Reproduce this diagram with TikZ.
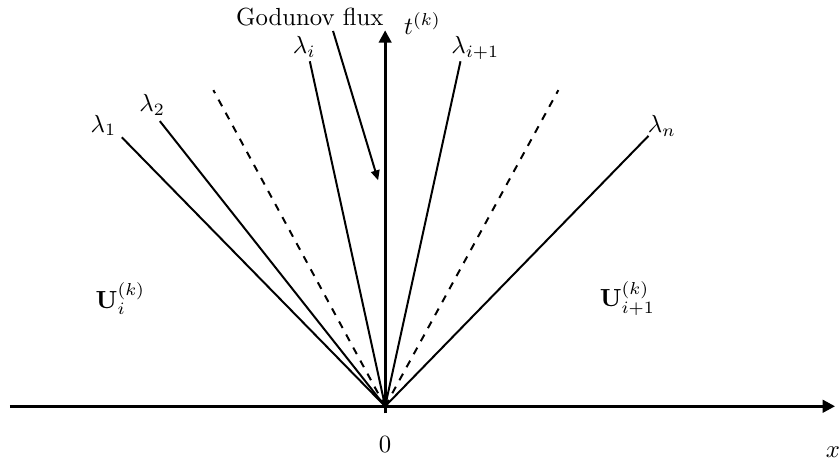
\documentclass[tikz,border=0pt]{standalone}
\usepackage{amsmath,amssymb}
\usepackage{tikz}
\usetikzlibrary{arrows.meta,positioning,calc}

\begin{document}
\begin{tikzpicture}[
    axis/.style={-{Triangle[length=5pt,width=5pt]}, line width=1.2pt},
    ray/.style={thick},
    dray/.style={thick, dashed},
    farr/.style={-{Triangle[length=4pt,width=3.5pt]}, thick},
    lbl/.style={inner sep=1pt}
]
\useasboundingbox (-5.47,-0.78) rectangle (6.46,5.77);
\coordinate (O) at (0,0);
\coordinate (xl) at (-5.33,0);
\coordinate (xr) at (6.39,0);
\coordinate (tb) at (0,-0.1);
\coordinate (tt) at (0,5.34);

% wave fan ends
\coordinate (e1) at (-3.74,3.82);
\coordinate (e2) at (-3.20,4.05);
\coordinate (dl) at (-2.44,4.49);
\coordinate (ei) at (-1.07,4.90);
\coordinate (ej) at (1.07,4.90);
\coordinate (dr) at (2.46,4.49);
\coordinate (en) at (3.74,3.84);

\draw[ray] (O) -- (e1);
\draw[ray] (O) -- (e2);
\draw[dray] (O) -- (dl);
\draw[ray] (O) -- (ei);
\draw[ray] (O) -- (ej);
\draw[dray] (O) -- (dr);
\draw[ray] (O) -- (en);

\draw[axis] (xl) -- (xr);
\draw[axis] (tb) -- (tt);

\node[lbl] (L1) at (-4.0,3.99) {$\lambda_1$};
\node[lbl] (L2) at (-3.31,4.28) {$\lambda_2$};
\node[lbl] (Li) at (-1.15,5.10) {$\lambda_i$};
\node[lbl] (Lj) at (1.28,5.09) {$\lambda_{i+1}$};
\node[lbl] (Ln) at (3.93,3.98) {$\lambda_n$};

\node[lbl] (tlab) at (0.53,5.43) {$t^{(k)}$};
\node[lbl] (xlab) at (6.36,-0.65) {$x$};
\node[lbl] (zero) at (0,-0.54) {$0$};

\node[lbl] (UL) at (-3.76,1.53) {$\mathbf{U}_i^{(k)}$};
\node[lbl] (UR) at (3.44,1.53) {$\mathbf{U}_{i+1}^{(k)}$};

\node[lbl] (GF) at (-1.07,5.53) {Godunov flux};
\coordinate (gs) at (-0.74,5.33);
\coordinate (ge) at (-0.10,3.21);
\draw[farr] (gs) -- (ge);
\end{tikzpicture}
\end{document}
